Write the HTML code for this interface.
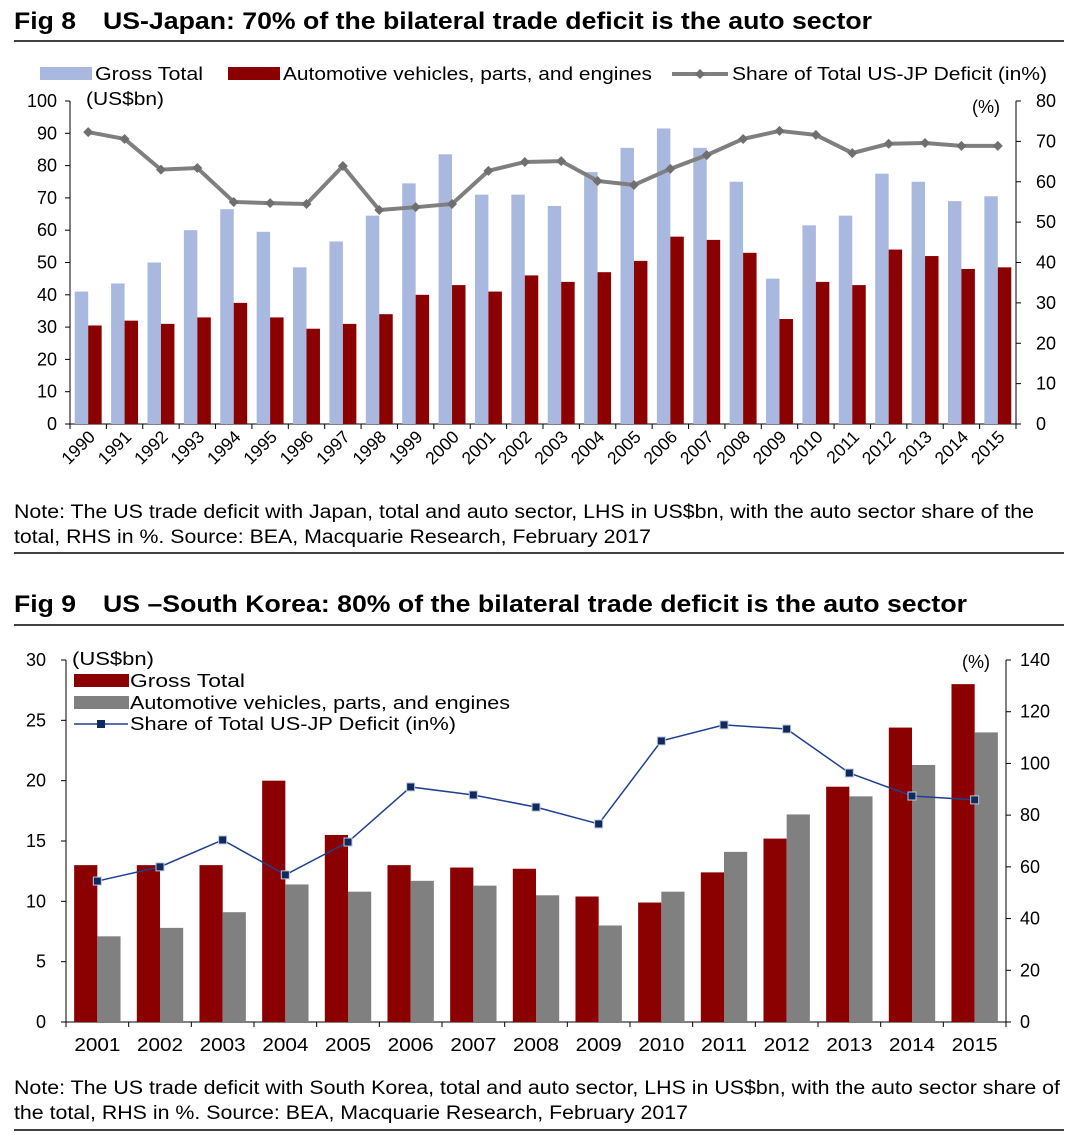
<!DOCTYPE html>
<html><head><meta charset="utf-8">
<style>
html,body{margin:0;padding:0;background:#fff;width:1078px;height:1137px;overflow:hidden;font-family:"Liberation Sans",Arial,sans-serif;}
svg{display:block}
</style></head>
<body>
<svg id="s" width="1078" height="1137" xmlns="http://www.w3.org/2000/svg" font-family="Liberation Sans, Arial, sans-serif">
<text x="14" y="29" font-size="24" font-weight="bold" textLength="62" lengthAdjust="spacingAndGlyphs">Fig 8</text>
<text x="103" y="29" font-size="24" font-weight="bold" textLength="769" lengthAdjust="spacingAndGlyphs">US-Japan: 70% of the bilateral trade deficit is the auto sector</text>
<line x1="14" y1="41" x2="1064" y2="41" stroke="#000" stroke-width="1.5"/>
<text x="14" y="518" font-size="19" textLength="1020" lengthAdjust="spacingAndGlyphs">Note: The US trade deficit with Japan, total and auto sector, LHS in US$bn, with the auto sector share of the</text>
<text x="14" y="543" font-size="19" textLength="637" lengthAdjust="spacingAndGlyphs">total, RHS in %. Source: BEA, Macquarie Research, February 2017</text>
<line x1="14" y1="553" x2="1064" y2="553" stroke="#000" stroke-width="1.5"/>
<text x="14" y="612" font-size="24" font-weight="bold" textLength="62" lengthAdjust="spacingAndGlyphs">Fig 9</text>
<text x="103" y="612" font-size="24" font-weight="bold" textLength="864" lengthAdjust="spacingAndGlyphs">US –South Korea: 80% of the bilateral trade deficit is the auto sector</text>
<line x1="14" y1="625" x2="1064" y2="625" stroke="#000" stroke-width="1.5"/>
<text x="14" y="1094" font-size="19" textLength="1046" lengthAdjust="spacingAndGlyphs">Note: The US trade deficit with South Korea, total and auto sector, LHS in US$bn, with the auto sector share of</text>
<text x="14" y="1119" font-size="19" textLength="674" lengthAdjust="spacingAndGlyphs">the total, RHS in %. Source: BEA, Macquarie Research, February 2017</text>
<line x1="14" y1="1130" x2="1064" y2="1130" stroke="#000" stroke-width="1.5"/>
<g id="c8"></g><g id="c9"></g>
</svg>
<script>
const years8 = ["1990","1991","1992","1993","1994","1995","1996","1997","1998","1999","2000","2001","2002","2003","2004","2005","2006","2007","2008","2009","2010","2011","2012","2013","2014","2015"];
const gross8 = [41,43.5,50,60,66.5,59.5,48.5,56.5,64.5,74.5,83.5,71,71,67.5,78,85.5,91.5,85.5,75,45,61.5,64.5,77.5,75,69,70.5];
const auto8 = [30.5,32,31,33,37.5,33,29.5,31,34,40,43,41,46,44,47,50.5,58,57,53,32.5,44,43,54,52,48,48.5];
const share8 = [72.3,70.6,63,63.4,55,54.7,54.5,63.9,53,53.7,54.5,62.7,64.9,65.1,60.2,59.2,63.2,66.6,70.6,72.6,71.6,67.1,69.4,69.6,68.9,68.9];
const leftTicks8 = [0,10,20,30,40,50,60,70,80,90,100];
const rightTicks8 = [0,10,20,30,40,50,60,70,80];

const years9 = ["2001","2002","2003","2004","2005","2006","2007","2008","2009","2010","2011","2012","2013","2014","2015"];
const gross9 = [13,13,13,20,15.5,13,12.8,12.7,10.4,9.9,12.4,15.2,19.5,24.4,28];
const auto9 = [7.1,7.8,9.1,11.4,10.8,11.7,11.3,10.5,8,10.8,14.1,17.2,18.7,21.3,24];
const share9 = [54.5,60,70.4,56.9,69.6,90.9,87.8,83.1,76.6,108.7,114.9,113.3,96.3,87.4,85.9];
const leftTicks9 = [0,5,10,15,20,25,30];
const rightTicks9 = [0,20,40,60,80,100,120,140];

const NS="http://www.w3.org/2000/svg";
function mk(p,tag,a,txt){const e=document.createElementNS(NS,tag);for(const k in a)e.setAttribute(k,a[k]);if(txt!==undefined)e.textContent=txt;p.appendChild(e);return e;}

// Fig 8
(function(){
const g=document.getElementById('c8');
const L=70,R=1016,T=101,B=424;
const n=years8.length,cw=(R-L)/n;
const yl=v=>B-(v/100)*(B-T), yr=v=>B-(v/80)*(B-T), xc=i=>L+cw*(i+0.5);
let e;
e=mk(g,'line',{x1:L,y1:T,x2:L,y2:B,stroke:'#000'});


e=mk(g,'line',{x1:R,y1:T,x2:R,y2:B,stroke:'#000'});


e=mk(g,'line',{x1:L,y1:B,x2:R,y2:B,stroke:'#000'});


leftTicks8.forEach(v=>{mk(g,'line',{x1:L-5,y1:yl(v),x2:L,y2:yl(v),stroke:'#000'});
e=mk(g,'text',{x:L-13,y:yl(v)+6,'font-size':18,'text-anchor':'end'},v);

});
rightTicks8.forEach(v=>{mk(g,'line',{x1:R,y1:yr(v),x2:R+5,y2:yr(v),stroke:'#000'});
e=mk(g,'text',{x:R+20,y:yr(v)+6,'font-size':18},v);

});
for(let i=0;i<=n;i++)mk(g,'line',{x1:L+cw*i,y1:B,x2:L+cw*i,y2:B+5,stroke:'#000'});
years8.forEach((y,i)=>{
 const x=xc(i);
 e=mk(g,'rect',{x:x-cw*0.37,y:yl(gross8[i]),width:cw*0.37,height:B-yl(gross8[i]),fill:'#a9b8de'});
 
 
 e=mk(g,'rect',{x:x,y:yl(auto8[i]),width:cw*0.37,height:B-yl(auto8[i]),fill:'#8b0000'});
 
 
 e=mk(g,'text',{x:x+8,y:B+14,'font-size':17.5,'text-anchor':'end',transform:`rotate(-45 ${x+8} ${B+14})`},y);
 
 
});
e=mk(g,'polyline',{points:share8.map((v,i)=>xc(i)+','+yr(v)).join(' '),fill:'none',stroke:'#7f7f7f','stroke-width':4});


share8.forEach((v,i)=>{const x=xc(i),y=yr(v);
 e=mk(g,'polygon',{points:`${x},${y-5} ${x+5},${y} ${x},${y+5} ${x-5},${y}`,fill:'#6f6f6f'});
 
 });
// legend
e=mk(g,'rect',{x:40,y:67,width:52,height:13,fill:'#a9b8de'});


e=mk(g,'text',{x:95,y:80,'font-size':18,textLength:108,lengthAdjust:'spacingAndGlyphs'},'Gross Total');


e=mk(g,'rect',{x:228,y:67,width:52,height:13,fill:'#8b0000'});


e=mk(g,'text',{x:283,y:80,'font-size':18,textLength:369,lengthAdjust:'spacingAndGlyphs'},'Automotive vehicles, parts, and engines');


e=mk(g,'line',{x1:672,y1:74,x2:728,y2:74,stroke:'#7f7f7f','stroke-width':4});


mk(g,'polygon',{points:'700,69 705,74 700,79 695,74',fill:'#6f6f6f'});
e=mk(g,'text',{x:732,y:80,'font-size':18,textLength:315,lengthAdjust:'spacingAndGlyphs'},'Share of Total US-JP Deficit (in%)');


e=mk(g,'text',{x:86,y:105,'font-size':18,textLength:78,lengthAdjust:'spacingAndGlyphs'},'(US$bn)');


e=mk(g,'text',{x:972,y:113,'font-size':18},'(%)');


})();

// Fig 9
(function(){
const g=document.getElementById('c9');
const L=66,R=1006,T=660,B=1022;
const n=years9.length,cw=(R-L)/n;
const yl=v=>B-(v/30)*(B-T), yr=v=>B-(v/140)*(B-T), xc=i=>L+cw*(i+0.5);
let e;
e=mk(g,'line',{x1:L,y1:T,x2:L,y2:B,stroke:'#000'});


e=mk(g,'line',{x1:R,y1:T,x2:R,y2:B,stroke:'#000'});


e=mk(g,'line',{x1:L,y1:B,x2:R,y2:B,stroke:'#000'});


leftTicks9.forEach(v=>{mk(g,'line',{x1:L-5,y1:yl(v),x2:L,y2:yl(v),stroke:'#000'});
e=mk(g,'text',{x:L-20,y:yl(v)+6,'font-size':18,'text-anchor':'end'},v);

});
rightTicks9.forEach(v=>{mk(g,'line',{x1:R,y1:yr(v),x2:R+5,y2:yr(v),stroke:'#000'});
e=mk(g,'text',{x:R+14,y:yr(v)+6,'font-size':18},v);

});
for(let i=0;i<=n;i++)mk(g,'line',{x1:L+cw*i,y1:B,x2:L+cw*i,y2:B+5,stroke:'#000'});
years9.forEach((y,i)=>{
 const x=xc(i),bw=cw*0.37;
 e=mk(g,'rect',{x:x-bw,y:yl(gross9[i]),width:bw,height:B-yl(gross9[i]),fill:'#8b0000'});
 
 
 e=mk(g,'rect',{x:x,y:yl(auto9[i]),width:bw,height:B-yl(auto9[i]),fill:'#808080'});
 
 
 e=mk(g,'text',{x:x,y:B+29,'font-size':18,'text-anchor':'middle',textLength:46,lengthAdjust:'spacingAndGlyphs'},y);
 
 
});
e=mk(g,'polyline',{points:share9.map((v,i)=>xc(i)+','+yr(v)).join(' '),fill:'none',stroke:'#1f3f8f','stroke-width':1.5});


share9.forEach((v,i)=>{
 e=mk(g,'rect',{x:xc(i)-4,y:yr(v)-4,width:8,height:8,fill:'#0f2a5c',stroke:'#c0c8e0','stroke-width':1});
 
 });
e=mk(g,'text',{x:72,y:665,'font-size':18,textLength:82,lengthAdjust:'spacingAndGlyphs'},'(US$bn)');


e=mk(g,'text',{x:962,y:668,'font-size':18},'(%)');


e=mk(g,'rect',{x:74,y:674,width:55,height:13,fill:'#8b0000'});


e=mk(g,'text',{x:130,y:687,'font-size':18,textLength:115,lengthAdjust:'spacingAndGlyphs'},'Gross Total');


e=mk(g,'rect',{x:74,y:696,width:55,height:13,fill:'#808080'});


e=mk(g,'text',{x:130,y:709,'font-size':18,textLength:380,lengthAdjust:'spacingAndGlyphs'},'Automotive vehicles, parts, and engines');


e=mk(g,'line',{x1:74,y1:724,x2:128,y2:724,stroke:'#1f3f8f','stroke-width':1.5});


mk(g,'rect',{x:97,y:720,width:8,height:8,fill:'#0f2a5c'});
e=mk(g,'text',{x:130,y:730,'font-size':18,textLength:326,lengthAdjust:'spacingAndGlyphs'},'Share of Total US-JP Deficit (in%)');


})();
</script>
</body></html>
